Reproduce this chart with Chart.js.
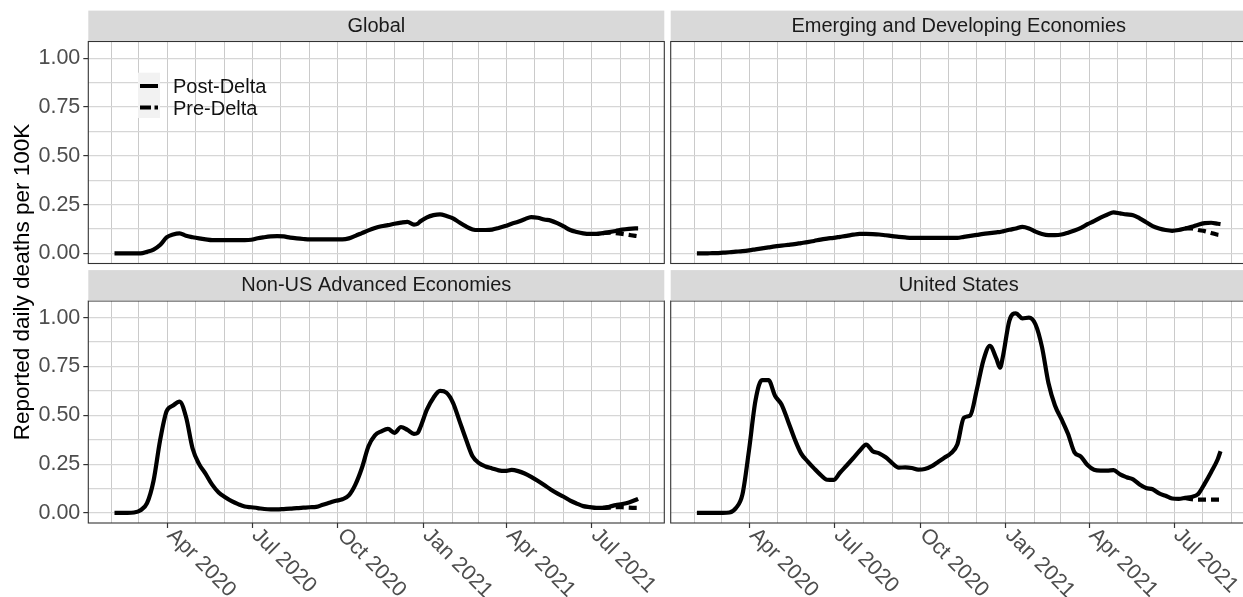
<!DOCTYPE html>
<html><head><meta charset="utf-8">
<script src="https://cdn.jsdelivr.net/npm/chart.js@4.4.1/dist/chart.umd.min.js"></script>
<style>
html,body{margin:0;padding:0;background:#fff;overflow:hidden;width:1243px;height:597px;position:relative;}
canvas{position:absolute;left:0;top:0;}
</style></head><body>
<canvas id="c0" width="1250" height="597"></canvas>
<canvas id="c1" width="1250" height="597"></canvas>
<canvas id="c2" width="1250" height="597"></canvas>
<canvas id="c3" width="1250" height="597"></canvas>
<script>
// ---------- data ----------
const dates = ["2020-02-04","2020-02-11","2020-02-18","2020-02-25",
"2020-03-03","2020-03-10","2020-03-17","2020-03-24","2020-03-31",
"2020-04-07","2020-04-14","2020-04-21","2020-04-28",
"2020-05-05","2020-05-12","2020-05-19","2020-05-26",
"2020-06-02","2020-06-09","2020-06-16","2020-06-23","2020-06-30",
"2020-07-07","2020-07-14","2020-07-21","2020-07-28",
"2020-08-04","2020-08-11","2020-08-18","2020-08-25",
"2020-09-01","2020-09-08","2020-09-15","2020-09-22","2020-09-29",
"2020-10-06","2020-10-13","2020-10-20","2020-10-27",
"2020-11-03","2020-11-10","2020-11-17","2020-11-24",
"2020-12-01","2020-12-08","2020-12-15","2020-12-22","2020-12-26","2020-12-29",
"2021-01-05","2021-01-12","2021-01-19","2021-01-26",
"2021-02-02","2021-02-09","2021-02-16","2021-02-23",
"2021-03-02","2021-03-09","2021-03-16","2021-03-23","2021-03-30",
"2021-04-06","2021-04-13","2021-04-20","2021-04-27",
"2021-05-04","2021-05-11","2021-05-18","2021-05-25",
"2021-06-01","2021-06-08","2021-06-15","2021-06-22","2021-06-29",
"2021-07-06","2021-07-13","2021-07-20","2021-07-27",
"2021-08-03","2021-08-10","2021-08-17","2021-08-20"];

const globalPost = [0,0,0,0,0, 0.008,0.02,0.043,0.082,0.097, 0.103,0.09,0.083,0.077,0.072,
0.068,0.068,0.068,0.068,0.068, 0.068,0.07,0.078,0.083,0.087, 0.089,0.087,0.081,0.077,0.074,
0.072,0.072,0.072,0.072,0.072, 0.072,0.077,0.09,0.104,0.118, 0.13,0.139,0.145,0.152,0.158,
0.162,0.148, 0.152, 0.165,0.185,0.196, 0.2,0.192,0.18,0.158,0.138,
0.123,0.12,0.12,0.122,0.13, 0.14,0.152,0.162,0.175,0.186, 0.183,0.174,0.168,0.155,0.138,
0.12,0.11,0.103,0.1,0.1, 0.104,0.109,0.115,0.122,0.126, 0.128,0.128];

const emergingPost = [0,0,0.001,0.002,0.004, 0.006,0.009,0.012,0.016,0.021, 0.026,0.031,0.036,0.04,0.044,
0.048,0.053,0.058,0.064,0.071, 0.076,0.08,0.085,0.09,0.096, 0.1,0.1,0.099,0.097,0.093,
0.089,0.085,0.082,0.08,0.08, 0.08,0.08,0.08,0.08,0.08, 0.08,0.085,0.09,0.095,0.1,
0.104,0.108, 0.11, 0.113,0.121,0.128, 0.136,0.128,0.112,0.1,0.094,
0.094,0.097,0.106,0.117,0.131, 0.15,0.165,0.183,0.198,0.21, 0.205,0.2,0.196,0.18,0.16,
0.14,0.128,0.12,0.116,0.12, 0.128,0.136,0.147,0.155,0.157, 0.152,0.15];

const nonUsPost = [0,0,0,0.002,0.014, 0.05,0.165,0.37,0.52,0.55, 0.57,0.49,0.33,0.25,0.2,
0.145,0.105,0.08,0.06,0.045, 0.033,0.029,0.025,0.02,0.018, 0.018,0.02,0.022,0.025,0.027,
0.029,0.031,0.042,0.052,0.062, 0.07,0.09,0.145,0.23,0.34, 0.397,0.418,0.43,0.41,0.44,
0.425,0.405, 0.41, 0.44,0.53,0.59, 0.625,0.615,0.564,0.47,0.376,
0.29,0.255,0.238,0.228,0.218, 0.215,0.22,0.214,0.202,0.185, 0.165,0.143,0.12,0.1,0.083,
0.063,0.048,0.035,0.03,0.026, 0.026,0.032,0.04,0.046,0.054, 0.066,0.072];

const usPost = [0,0,0,0,0, 0.002,0.025,0.095,0.32,0.575, 0.68,0.68,0.6,0.555,0.47,
0.38,0.305,0.264,0.228,0.195, 0.17,0.169,0.207,0.243,0.28, 0.318,0.35,0.316,0.305,0.285,
0.255,0.232,0.233,0.23,0.222, 0.225,0.238,0.26,0.283,0.305, 0.35,0.487,0.5,0.632,0.78,
0.855,0.79, 0.744, 0.8,0.985,1.022, 0.996,1.0,0.966,0.85,0.665,
0.55,0.48,0.405,0.31,0.288, 0.245,0.221,0.217,0.217,0.219, 0.197,0.183,0.172,0.146,0.128,
0.121,0.1,0.088,0.074,0.072, 0.077,0.082,0.097,0.15,0.21, 0.275,0.316];

const preDates = ["2021-07-13","2021-07-20","2021-07-27","2021-08-03","2021-08-10","2021-08-17","2021-08-20"];
const globalPre   = [0.104,0.106,0.104,0.1,0.095,0.09,0.088];
const emergingPre = [0.128,0.128,0.12,0.114,0.105,0.096,0.094];
const nonUsPre    = [0.026,0.027,0.03,0.029,0.027,0.026,0.026];
const usPre       = [0.077,0.07,0.068,0.068,0.068,0.068,0.068];

const panelTitles = ["Global","Emerging and Developing Economies","Non-US Advanced Economies","United States"];
const seriesNames = ["Post-Delta","Pre-Delta"];
const yTickValues = [0,0.25,0.5,0.75,1];
const yMinorValues = [0.125,0.375,0.625,0.875];
const xTickDates = ["2020-04-01","2020-07-01","2020-10-01","2021-01-01","2021-04-01","2021-07-01"];
const xTickLabels = ["Apr 2020","Jul 2020","Oct 2020","Jan 2021","Apr 2021","Jul 2021"];
const yAxisTitle = "Reported daily deaths per 100K";

// ---------- helpers ----------
function dayNum(s){const [y,m,d]=s.split('-').map(Number);return (Date.UTC(y,m-1,d)-Date.UTC(2020,0,1))/86400000;}
const firstDay = dayNum(dates[0]), lastDay = dayNum(dates[dates.length-1]);
const span = lastDay-firstDay;
const xMin = firstDay-0.05*span, xMax = lastDay+0.05*span;
const yMin = -0.0515, yMax = 1.085;
const monthStarts=[];
for(let k=1;k<=20;k++){monthStarts.push((Date.UTC(2020,k,1)-Date.UTC(2020,0,1))/86400000);}
const majorDays = xTickDates.map(dayNum);
const yGrid = yTickValues.concat(yMinorValues).sort((a,b)=>a-b);
const FONT = "'Liberation Sans', Arial, Helvetica, sans-serif";
Chart.defaults.font.family = FONT;

const panels = [
 {id:'c0', title:panelTitles[0], post:globalPost,   pre:globalPre,   rect:[88.3,41.5,664.3,263.5], left:true,  bottom:false, legend:true},
 {id:'c1', title:panelTitles[1], post:emergingPost, pre:emergingPre, rect:[670.7,41.5,1246.7,263.5], left:false, bottom:false},
 {id:'c2', title:panelTitles[2], post:nonUsPost,    pre:nonUsPre,    rect:[88.3,301,664.3,523], left:true,  bottom:true, yTitle:true},
 {id:'c3', title:panelTitles[3], post:usPost,       pre:usPre,       rect:[670.7,301,1246.7,523], left:false, bottom:true}
];

function panelPlugin(p){
  return {id:'panel_'+p.id, afterDraw(chart){
    const ctx=chart.ctx, a=chart.chartArea;
    ctx.save();
    ctx.strokeStyle='#333'; ctx.lineWidth=1.1;
    ctx.strokeRect(a.left,a.top,a.right-a.left,a.bottom-a.top);
    const sh=30.4;
    ctx.fillStyle='#d9d9d9';
    ctx.fillRect(a.left,a.top-sh-0.5,a.right-a.left,sh);
    ctx.fillStyle='#1a1a1a'; ctx.font='20px '+FONT; ctx.textAlign='center'; ctx.textBaseline='middle';
    ctx.fillText(p.title,(a.left+a.right)/2,a.top-sh/2);
    if(p.bottom){
      const xs=chart.scales.x;
      ctx.fillStyle='#4d4d4d'; ctx.font='21.5px '+FONT; ctx.textAlign='left'; ctx.textBaseline='middle';
      xTickDates.forEach((d,i)=>{
        const px=xs.getPixelForValue(dayNum(d));
        ctx.save(); ctx.translate(px+3,a.bottom+9); ctx.rotate(Math.PI/4);
        ctx.fillText(xTickLabels[i],0,0); ctx.restore();
      });
    }
    if(p.legend){
      ctx.fillStyle='#f2f2f2'; ctx.fillRect(138,72.7,22,45.3);
      ctx.strokeStyle='#000'; ctx.lineWidth=4; ctx.lineCap='butt';
      ctx.beginPath(); ctx.moveTo(140,86); ctx.lineTo(158,86); ctx.stroke();
      ctx.setLineDash([11,3.5]);
      ctx.beginPath(); ctx.moveTo(140,107.5); ctx.lineTo(158,107.5); ctx.stroke();
      ctx.setLineDash([]);
      ctx.fillStyle='#111'; ctx.font='20px '+FONT; ctx.textAlign='left'; ctx.textBaseline='middle';
      ctx.fillText(seriesNames[0],173,87);
      ctx.fillText(seriesNames[1],173,109);
    }
    if(p.yTitle){
      ctx.save(); ctx.translate(23,282); ctx.rotate(-Math.PI/2);
      ctx.fillStyle='#000'; ctx.font='22.5px '+FONT; ctx.textAlign='center'; ctx.textBaseline='middle';
      ctx.fillText(yAxisTitle,0,0); ctx.restore();
    }
    ctx.restore();
  }};
}

panels.forEach(p=>{
  const canvas=document.getElementById(p.id);
  const W=canvas.width,H=canvas.height;
  const [L,T,R,B]=p.rect;
  const xh=6;
  const postData=dates.map((d,i)=>({x:dayNum(d),y:p.post[i]}));
  const preData=preDates.map((d,i)=>({x:dayNum(d),y:p.pre[i]}));
  new Chart(canvas,{
    type:'line',
    data:{datasets:[
      {label:seriesNames[0],data:postData,borderColor:'#000',borderWidth:4.2,pointRadius:0,cubicInterpolationMode:'monotone',borderJoinStyle:'round',fill:false},
      {label:seriesNames[1],data:preData,borderColor:'#000',borderWidth:4.2,borderDash:[8,5],pointRadius:0,cubicInterpolationMode:'monotone',fill:false}
    ]},
    options:{
      responsive:false,animation:false,devicePixelRatio:1,events:[],
      layout:{autoPadding:false,padding:{left:0,top:T,right:W-R,bottom:H-B-xh}},
      plugins:{legend:{display:false},tooltip:{enabled:false}},
      scales:{
        x:{type:'linear',min:xMin,max:xMax,position:'bottom',
          afterBuildTicks:s=>{s.ticks=monthStarts.map(v=>({value:v}));},
          afterFit:s=>{s.height=xh;},
          ticks:{display:false,autoSkip:false},
          grid:{color:'#cacaca',lineWidth:1,drawTicks:p.bottom,tickLength:5,tickWidth:1.2,
            tickColor:c=>(c.tick && majorDays.includes(c.tick.value))?'#333':'rgba(0,0,0,0)'},
          border:{display:false}},
        y:{type:'linear',min:yMin,max:yMax,position:'left',
          afterBuildTicks:s=>{s.ticks=yGrid.map(v=>({value:v}));},
          afterFit:s=>{s.width=L;},
          ticks:{display:p.left,autoSkip:false,color:'#4d4d4d',font:{size:21.5,family:FONT},padding:3,
            callback:v=>yTickValues.some(t=>Math.abs(t-v)<1e-9)?v.toFixed(2):''},
          grid:{color:'#d6d6d6',lineWidth:1.2,drawTicks:p.left,tickLength:5,tickWidth:1.2,
            tickColor:c=>(c.tick && yTickValues.some(t=>Math.abs(t-c.tick.value)<1e-9))?'#333':'rgba(0,0,0,0)'},
          border:{display:false}}
      }
    },
    plugins:[panelPlugin(p)]
  });
});
</script>
</body></html>
